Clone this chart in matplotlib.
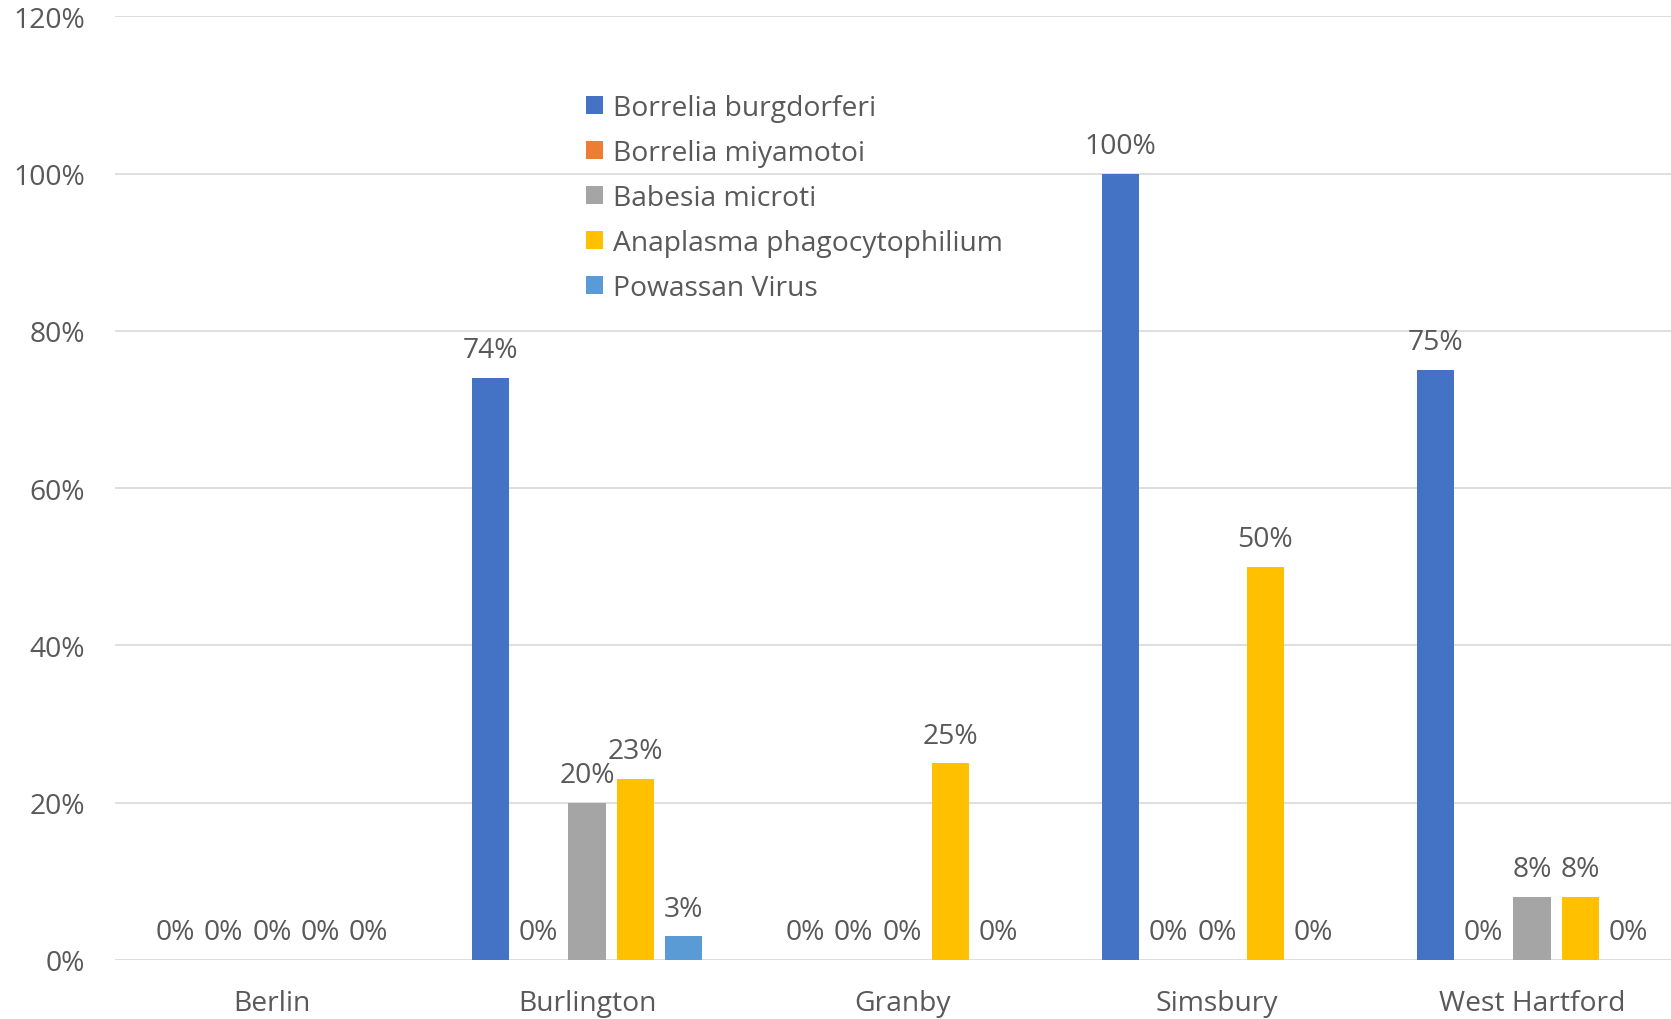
import numpy as np
import matplotlib
matplotlib.use("Agg")
import matplotlib.pyplot as plt
from matplotlib.ticker import PercentFormatter

# Data
towns = ["Berlin", "Burlington", "Granby", "Simsbury", "West Hartford"]
pathogens = ["Borrelia burgdorferi", "Borrelia miyamotoi", "Babesia microti",
             "Anaplasma phagocytophilium", "Powassan Virus"]
b_burgdorferi = [0.00, 0.74, 0.00, 1.00, 0.75]
b_miyamotoi   = [0.00, 0.00, 0.00, 0.00, 0.00]
b_microti     = [0.00, 0.20, 0.00, 0.00, 0.08]
a_phago       = [0.00, 0.23, 0.25, 0.50, 0.08]
powassan      = [0.00, 0.03, 0.00, 0.00, 0.00]
series = [b_burgdorferi, b_miyamotoi, b_microti, a_phago, powassan]
colors = ["#4472C4", "#ED7D31", "#A5A5A5", "#FFC000", "#5B9BD5"]

TXT = "#595959"
FS = 20.3
plt.rcParams["font.family"] = ["Open Sans", "DejaVu Sans"]

W, H = 1671, 1020
fig = plt.figure(figsize=(W / 100, H / 100), dpi=100)
# plot area runs past the right edge of the picture (cropped chart)
ax = fig.add_axes([114.5 / W, 59 / H, 1575 / W, (961 - 17.3) / H])

x = np.arange(len(towns))
pitch, bw = 0.1533, 0.119
for i, (vals, c, name) in enumerate(zip(series, colors, pathogens)):
    xs = x + (i - 2) * pitch
    ax.bar(xs, vals, width=bw, color=c, label=name, zorder=3)
    for xi, v in zip(xs, vals):
        ax.annotate(f"{v:.0%}", (xi, v), xytext=(0, 20), textcoords="offset points",
                    ha="center", va="center", fontsize=FS, color=TXT)

ax.set_xlim(-0.5, len(towns) - 0.5)
ax.set_ylim(0, 1.2)
ax.set_yticks(np.arange(0, 1.21, 0.2))
ax.yaxis.set_major_formatter(PercentFormatter(1.0, decimals=0))
ax.set_xticks(x)
ax.set_xticklabels(towns)
ax.tick_params(axis="both", length=0, labelsize=FS, colors=TXT)
ax.tick_params(axis="y", pad=21)
ax.tick_params(axis="x", pad=21)
ax.grid(axis="y", color="#D9D9D9", linewidth=1.2, zorder=0)
for s in ax.spines.values():
    s.set_visible(False)

leg = ax.legend(loc="upper left", bbox_to_anchor=(586 / W, 1 - 95 / H),
                bbox_transform=fig.transFigure, frameon=False, fontsize=FS,
                handlelength=0.62, handleheight=0.62, handletextpad=0.35,
                labelspacing=0.6, borderaxespad=0, borderpad=0)
for t in leg.get_texts():
    t.set_color(TXT)

fig.savefig("out.png", dpi=100)
